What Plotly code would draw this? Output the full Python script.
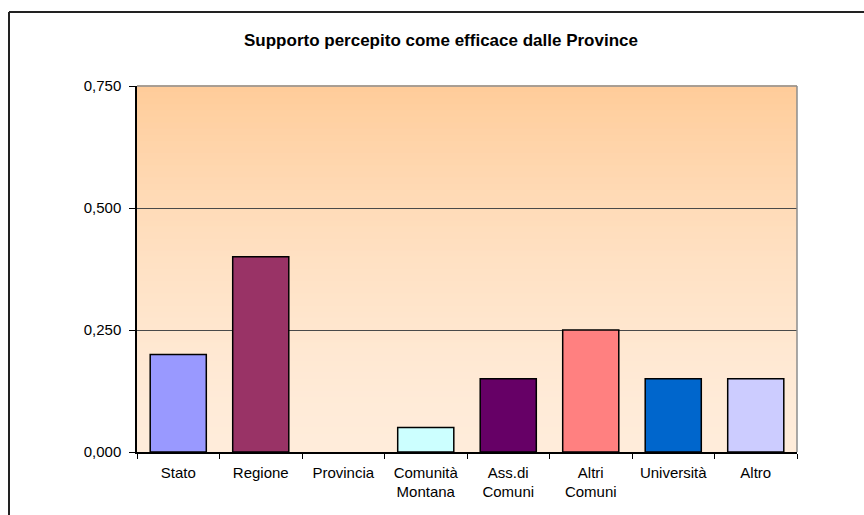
import plotly.graph_objects as go

categories = ["Stato", "Regione", "Provincia", "Comunità<br>Montana", "Ass.di<br>Comuni",
              "Altri<br>Comuni", "Università", "Altro"]
values = [0.20, 0.40, 0.0, 0.05, 0.15, 0.25, 0.15, 0.15]
colors = ["#9999FF", "#993366", "#FFFFC0", "#CCFFFF", "#660066", "#FF8080", "#0066CC", "#CCCCFF"]
y_ticks = [0.0, 0.25, 0.5, 0.75]
title = "Supporto percepito come efficace dalle Province"

W, H = 864, 515
L, R, T, B = 137, 67, 86, 63
pw, ph = W - L - R, H - T - B

def px_to_paper_x(px):
    return (px - L) / pw

def px_to_paper_y(py):
    return (H - B - py) / ph

line_widths = [1.5 if v > 0 else 0 for v in values]

fig = go.Figure()
fig.add_trace(go.Bar(
    x=categories, y=values,
    marker=dict(color=colors, line=dict(color="#000000", width=line_widths)),
    width=0.68,
))

# gradient background strips
top_c = (255, 204, 153)
bot_c = (255, 236, 218)
n = 60
shapes = []
for i in range(n):
    f0 = i / n
    f1 = (i + 1) / n
    t = (f0 + f1) / 2  # 0 bottom, 1 top
    tt = t ** 1.6
    c = tuple(round(bot_c[k] + (top_c[k] - bot_c[k]) * tt) for k in range(3))
    shapes.append(dict(type="rect", xref="paper", yref="paper", x0=0, x1=1,
                       y0=f0, y1=f1 + 0.002, layer="below", line=dict(width=0),
                       fillcolor="rgb(%d,%d,%d)" % c))
# top and right plot border in gray
shapes.append(dict(type="line", xref="paper", yref="paper", x0=0, x1=1, y0=1, y1=1,
                   line=dict(color="#8c8c8c", width=1.5), layer="above"))
shapes.append(dict(type="line", xref="paper", yref="paper", x0=1, x1=1, y0=0, y1=1,
                   line=dict(color="#8c8c8c", width=1.5), layer="above"))
# outer frame (left and top)
fx0, fy0 = px_to_paper_x(9), px_to_paper_y(12)
shapes.append(dict(type="line", xref="paper", yref="paper", x0=fx0, x1=px_to_paper_x(870),
                   y0=fy0, y1=fy0, line=dict(color="#222222", width=2)))
shapes.append(dict(type="line", xref="paper", yref="paper", x0=fx0, x1=fx0,
                   y0=fy0, y1=px_to_paper_y(520), line=dict(color="#222222", width=2)))

fig.update_layout(
    width=W, height=H,
    margin=dict(l=L, r=R, t=T, b=B),
    paper_bgcolor="white", plot_bgcolor="white",
    separators=",.",
    showlegend=False,
    font=dict(family="Liberation Sans, Arial", size=15, color="#000000"),
    shapes=shapes,
    annotations=[dict(text="<b>" + title + "</b>", xref="paper", yref="paper",
                      x=px_to_paper_x(441), y=px_to_paper_y(40), showarrow=False,
                      xanchor="center", yanchor="middle",
                      font=dict(size=17, family="Liberation Sans, Arial", color="#000"))],
    xaxis=dict(showline=True, linecolor="#000000", linewidth=1.5, ticks="outside",
               tickson="boundaries", ticklen=5, tickcolor="#000000", tickwidth=1,
               showgrid=False, tickfont=dict(size=15), range=[-0.5, 7.5],
               ticklabelstandoff=6),
    yaxis=dict(range=[0, 0.75], tickvals=y_ticks, tickformat=".3f",
               showline=True, linecolor="#000000", linewidth=1.5, ticks="outside",
               ticklen=6, tickcolor="#000000", showgrid=True, gridcolor="#4a4a4a",
               gridwidth=1, zeroline=False, tickfont=dict(size=15),
               ticklabelstandoff=5),
)

fig.write_html("out.html")
